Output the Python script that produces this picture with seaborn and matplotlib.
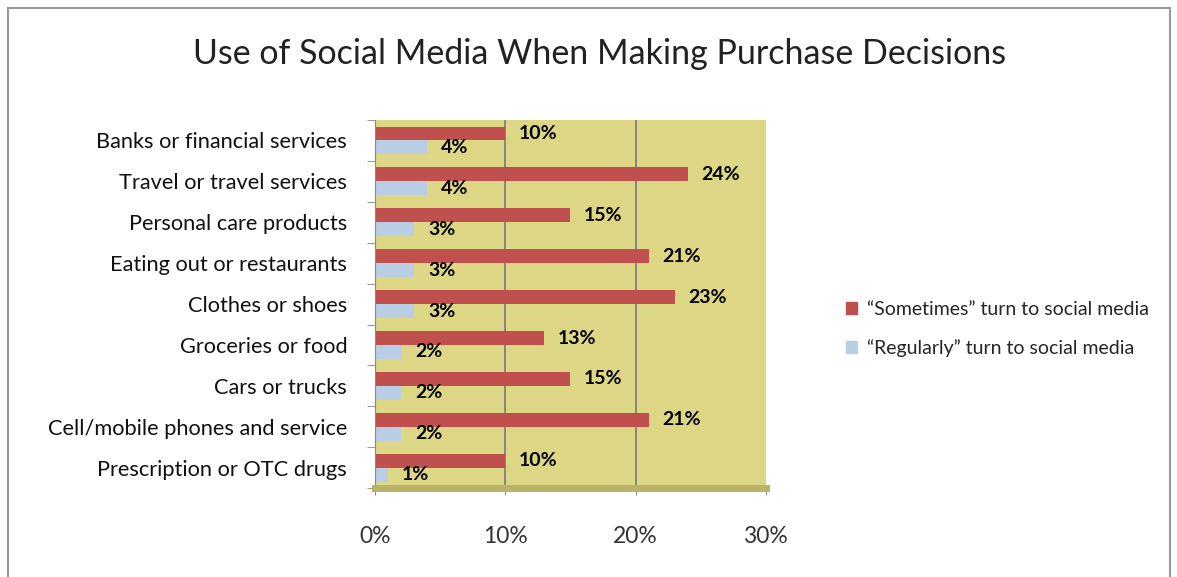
import numpy as np
import pandas as pd
import matplotlib.pyplot as plt
from matplotlib.patches import Rectangle
import seaborn as sns

categories = ["Banks or financial services", "Travel or travel services", "Personal care products",
              "Eating out or restaurants", "Clothes or shoes", "Groceries or food", "Cars or trucks",
              "Cell/mobile phones and service", "Prescription or OTC drugs"]
sometimes = [10, 24, 15, 21, 23, 13, 15, 21, 10]
regularly = [4, 4, 3, 3, 3, 2, 2, 2, 1]
series = ["\u201cSometimes\u201d turn to social media", "\u201cRegularly\u201d turn to social media"]

df = pd.DataFrame({
    "category": categories * 2,
    "value": sometimes + regularly,
    "series": [series[0]] * len(categories) + [series[1]] * len(categories),
})

sns.set_style("white")
plt.rcParams["font.family"] = ["Lato", "DejaVu Sans"]

fig = plt.figure(figsize=(11.77, 5.77), dpi=100)
ax = fig.add_axes([0.3186, 0.154, 0.332, 0.638])

sns.barplot(data=df, x="value", y="category", hue="series", orient="h",
            palette=["#C0504D", "#B9CDE5"], width=0.68, ax=ax, saturation=1,
            edgecolor="none")

ax.set_facecolor("#DDD785")
ax.set_xlim(0, 30)
ax.set_ylim(len(categories) - 0.5, -0.5)
ax.set_xticks([0, 10, 20, 30])
ax.set_xticklabels(["0%", "10%", "20%", "30%"], fontsize=16.5, color="#333333")
ax.tick_params(axis="x", length=5, pad=22, color="#888888", direction="out", bottom=True)
ax.set_yticks(range(len(categories)))
ax.set_yticklabels(categories, fontsize=15.7, color="#111111")
ax.tick_params(axis="y", length=0, pad=20)
ax.set_yticks(np.arange(-0.5, len(categories), 1), minor=True)
ax.tick_params(axis="y", which="minor", length=6, color="#888888", left=True)
ax.set_xlabel("")
ax.set_ylabel("")
for x in [10, 20]:
    ax.axvline(x, color="#7F7F7F", lw=1.3, zorder=0)
for s in ["top", "right"]:
    ax.spines[s].set_visible(False)
ax.spines["left"].set_color("#888888")
ax.spines["bottom"].set_linewidth(5)
ax.spines["bottom"].set_edgecolor("#B8B366")

for cont, vals in zip(ax.containers, [sometimes, regularly]):
    ax.bar_label(cont, labels=[f"{v}%" for v in vals], padding=10,
                 fontsize=14, fontweight="bold", color="black")

ax.legend_.remove()
handles = [Rectangle((0, 0), 1, 1, color=c) for c in ["#C0504D", "#B9CDE5"]]
fig.legend(handles, series, loc="center left", bbox_to_anchor=(0.704, 0.43),
           frameon=False, fontsize=14, handlelength=0.55, handleheight=0.55,
           labelspacing=1.1, handletextpad=0.5)

fig.suptitle("Use of Social Media When Making Purchase Decisions", x=0.509, y=0.935,
             fontsize=24.5, color="#222222")
fig.patches.append(Rectangle((8 / 1177, -0.05), 1162 / 1177, 1.05 - 8 / 577,
                             transform=fig.transFigure, fill=False,
                             edgecolor="#999999", lw=1.5))

fig.savefig("out.png", dpi=100)
